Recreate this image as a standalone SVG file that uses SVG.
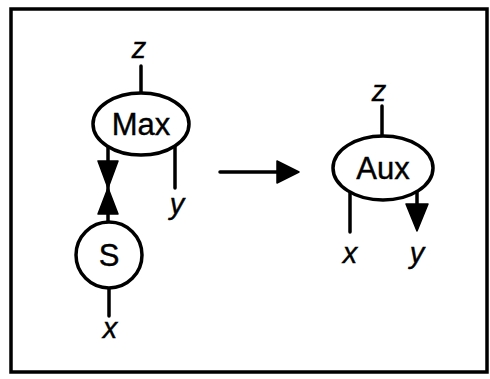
<svg xmlns="http://www.w3.org/2000/svg" width="490" height="379" viewBox="0 0 490 379">
<style>
.ln{stroke:#000;stroke-width:3.5;fill:none;stroke-linecap:round}
.nd{stroke:#000;stroke-width:3.5;fill:#fff}
.ah{fill:#000;stroke:#000;stroke-width:1.5;stroke-linejoin:round}
.lb{font-family:"Liberation Sans",Arial,sans-serif;font-size:31px;text-anchor:middle;fill:#000;stroke:#000;stroke-width:0.4}
.vr{font-family:"Liberation Sans",Arial,sans-serif;font-size:29px;font-style:italic;text-anchor:middle;fill:#000;stroke:#000;stroke-width:0.4}
</style>
<rect x="11" y="9" width="476" height="363" fill="#fff" stroke="#000" stroke-width="3.5"/>
<g id="connectors">
<line class="ln" x1="141" y1="66" x2="141" y2="93"/>
<line class="ln" x1="108" y1="147" x2="108" y2="222"/>
<polygon class="ah" points="98,161 118,161 108,188"/>
<polygon class="ah" points="108,188 98,214 118,214"/>
<line class="ln" x1="175" y1="147" x2="175" y2="188"/>
<line class="ln" x1="109" y1="288" x2="109" y2="316"/>
<line class="ln" x1="220" y1="172" x2="280" y2="172"/>
<polygon class="ah" points="277,161 299,172 277,183"/>
<line class="ln" x1="382" y1="106" x2="382" y2="136"/>
<line class="ln" x1="350" y1="192" x2="350" y2="232"/>
<line class="ln" x1="417" y1="192" x2="417" y2="206"/>
<polygon class="ah" points="406,204 428,204 417,231"/>
</g>
<g id="max">
<ellipse class="nd" cx="141" cy="124" rx="48" ry="31"/>
<text class="lb" x="141" y="135">Max</text>
</g>
<g id="s">
<circle class="nd" cx="109" cy="255" r="33"/>
<text class="lb" x="109" y="266">S</text>
</g>
<g id="aux">
<ellipse class="nd" cx="383" cy="168" rx="50" ry="32"/>
<text class="lb" x="383" y="179">Aux</text>
</g>
<g id="labels">
<text class="vr" x="139" y="58">z</text>
<text class="vr" x="177" y="214">y</text>
<text class="vr" x="110" y="338">x</text>
<text class="vr" x="379" y="101">z</text>
<text class="vr" x="350" y="263">x</text>
<text class="vr" x="417" y="263">y</text>
</g>
</svg>
